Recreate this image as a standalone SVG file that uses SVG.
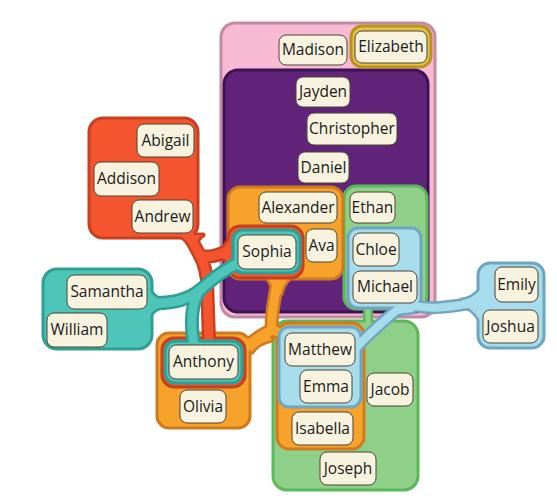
<svg xmlns="http://www.w3.org/2000/svg" width="557" height="504" viewBox="0 0 557 504">
<style>
.bg{fill:#ffffff}
.node rect{fill:#f8f3df;stroke:#4a4436;stroke-width:1}
.node text{font-family:"Open Sans","Noto Sans",sans-serif;font-size:15.5px;fill:#1a1a1a;text-anchor:middle}
.ol,.fl{fill:none;stroke-linecap:round;stroke-linejoin:round}
.fo{stroke-width:5;stroke-linejoin:round}
.ff{stroke:none}
.pink rect{fill:#f8b9d2;stroke:#c48aa4;stroke-width:3}
.purple rect{fill:#62247a;stroke:#3e1352;stroke-width:3}
.gold rect{fill:#e4c24c;stroke:#b8941c;stroke-width:3}
.green rect{fill:#8fd088;stroke:#5ab75a;stroke-width:3}
.green .ol{stroke:#5ab75a;stroke-width:10}
.green .fl{stroke:#8fd088;stroke-width:5}
.orange rect{fill:#f7a22b;stroke:#cf7a1f;stroke-width:3}
.orange .ol{stroke:#cf7a1f;stroke-width:14}
.orange .fl{stroke:#f7a22b;stroke-width:9}
.orange .fo{fill:#f7a22b;stroke:#cf7a1f}
.orange .ff{fill:#f7a22b}
.blue rect{fill:#a7dcec;stroke:#6ea6bf;stroke-width:3}
.blue .ol{stroke:#6ea6bf;stroke-width:13}
.blue .fl{stroke:#a7dcec;stroke-width:8}
.blue .fo{fill:#a7dcec;stroke:#6ea6bf}
.blue .ff{fill:#a7dcec}
.red rect{fill:#f4552f;stroke:#c8401f;stroke-width:3}
.red .ol{stroke:#c8401f;stroke-width:14}
.red .fl{stroke:#f4552f;stroke-width:9}
.red .fo{fill:#f4552f;stroke:#c8401f}
.red .ff{fill:#f4552f}
.teal rect{fill:#4ec5b9;stroke:#2f9f95;stroke-width:3}
.teal .ol{stroke:#2f9f95;stroke-width:14}
.teal .fl{stroke:#4ec5b9;stroke-width:9}
.teal .fo{fill:#4ec5b9;stroke:#2f9f95}
.teal .ff{fill:#4ec5b9}
</style>
<rect class="bg" x="0" y="0" width="557" height="504"/>
<g id="connectors">
  <g id="set-pink" class="pink">
    <rect x="221" y="23" width="214" height="294" rx="14"/>
  </g>
  <g id="set-purple" class="purple">
    <rect x="224" y="70" width="204" height="242" rx="14"/>
  </g>
  <g id="set-gold" class="gold">
    <rect x="351" y="26" width="80" height="41" rx="11"/>
  </g>
  <g id="set-green" class="green">
    <path class="ol" d="M368 303 L368 326"/>
    <rect x="344" y="186" width="83" height="123" rx="12"/>
    <rect x="273" y="321" width="145" height="169" rx="14"/>
    <path class="fl" d="M368 303 L368 326"/>
  </g>
  <g id="set-orange" class="orange">
    <path class="ol" d="M278 276 C275 300 270 315 272 330 M272 330 C265 333 255 338 246 348 M272 330 C276 331 280 332 286 336"/>
    <path class="fo" d="M266 277 L291 277 C285 282 282 287 281 294 L274 294 C273 287 271 282 266 277 Z M244 338 C252 340 258 338 266 332 L272 340 C262 342 256 346 252 352 Z"/>
    <rect x="228" y="187" width="115" height="92" rx="12"/>
    <rect x="157" y="333" width="93" height="95" rx="12"/>
    <rect x="277" y="323" width="87" height="126" rx="12"/>
    <path class="fl" d="M278 276 C275 300 270 315 272 330 M272 330 C265 333 255 338 246 348 M272 330 C276 331 280 332 286 336"/>
    <path class="ff" d="M266 277 L291 277 C285 282 282 287 281 294 L274 294 C273 287 271 282 266 277 Z M244 338 C252 340 258 338 266 332 L272 340 C262 342 256 346 252 352 Z"/>
  </g>
  <g id="set-blue" class="blue">
    <path class="ol" d="M405 303 C430 312 450 306 482 302 M405 303 C388 318 372 330 356 348"/>
    <path class="fo" d="M462 300 C470 299 474 296 480 290 L480 320 C474 312 470 307 462 306 Z M394 304 L426 304 C420 308 416 310 412 312 L398 314 C398 310 396 307 394 304 Z"/>
    <rect x="348" y="228" width="73" height="80" rx="10"/>
    <rect x="279" y="327" width="82" height="80" rx="10"/>
    <rect x="478" y="263" width="66" height="85" rx="12"/>
    <path class="fl" d="M405 303 C430 312 450 306 482 302 M405 303 C388 318 372 330 356 348"/>
    <path class="ff" d="M462 300 C470 299 474 296 480 290 L480 320 C474 312 470 307 462 306 Z M394 304 L426 304 C420 308 416 310 412 312 L398 314 C398 310 396 307 394 304 Z"/>
  </g>
  <g id="set-red" class="red">
    <path class="ol" d="M188 232 C195 250 205 258 207 280 L209 342 M202 256 C212 258 220 254 232 250"/>
    <path class="fo" d="M178 235 L203 235 C198 238 197 241 197 244 L188 243 C186 240 183 237 178 235 Z M218 250 C223 250 226 244 230 239 L230 265 C226 260 223 256 218 256 Z"/>
    <rect x="89" y="118" width="109" height="120" rx="14"/>
    <rect x="228" y="226" width="75" height="52" rx="12"/>
    <rect x="162" y="338" width="83" height="49" rx="12"/>
    <path class="fl" d="M188 232 C195 250 205 258 207 280 L209 342 M202 256 C212 258 220 254 232 250"/>
    <path class="ff" d="M178 235 L203 235 C198 238 197 241 197 244 L188 243 C186 240 183 237 178 235 Z M218 250 C223 250 226 244 230 239 L230 265 C226 260 223 256 218 256 Z"/>
  </g>
  <g id="set-teal" class="teal">
    <path class="ol" d="M150 303 C172 304 188 300 200 290 C212 280 225 268 245 260 M199 291 C191 305 190 322 194 345"/>
    <path class="fo" d="M150 291 C154 297 158 300 164 300 L164 307 C158 307 154 310 150 315 Z"/>
    <rect x="43" y="269" width="109" height="80" rx="14"/>
    <rect x="233" y="230" width="67" height="43" rx="10"/>
    <rect x="165" y="341" width="77" height="42" rx="10"/>
    <path class="fl" d="M150 303 C172 304 188 300 200 290 C212 280 225 268 245 260 M199 291 C191 305 190 322 194 345"/>
    <path class="ff" d="M150 291 C154 297 158 300 164 300 L164 307 C158 307 154 310 150 315 Z"/>
  </g>
</g>
<g id="node-madison" class="node"><rect x="279" y="35" width="68" height="30" rx="7"/><text x="313" y="55">Madison</text></g>
<g id="node-elizabeth" class="node"><rect x="355" y="31" width="72" height="32" rx="7"/><text x="391" y="52">Elizabeth</text></g>
<g id="node-jayden" class="node"><rect x="296" y="77" width="54" height="30" rx="7"/><text x="323" y="97">Jayden</text></g>
<g id="node-christopher" class="node"><rect x="307" y="113" width="90" height="32" rx="7"/><text x="352" y="134">Christopher</text></g>
<g id="node-daniel" class="node"><rect x="298" y="152" width="51" height="31" rx="7"/><text x="323.5" y="173">Daniel</text></g>
<g id="node-alexander" class="node"><rect x="259" y="192" width="78" height="31" rx="7"/><text x="298" y="213">Alexander</text></g>
<g id="node-ethan" class="node"><rect x="350" y="192" width="45" height="31" rx="7"/><text x="372.5" y="213">Ethan</text></g>
<g id="node-sophia" class="node"><rect x="238" y="235" width="58" height="34" rx="7"/><text x="267" y="257">Sophia</text></g>
<g id="node-ava" class="node"><rect x="306" y="229" width="31" height="33" rx="7"/><text x="321.5" y="251">Ava</text></g>
<g id="node-chloe" class="node"><rect x="353" y="233" width="46" height="33" rx="7"/><text x="376" y="255">Chloe</text></g>
<g id="node-michael" class="node"><rect x="353" y="271" width="64" height="32" rx="7"/><text x="385" y="292">Michael</text></g>
<g id="node-abigail" class="node"><rect x="137" y="124" width="57" height="33" rx="7"/><text x="165.5" y="146">Abigail</text></g>
<g id="node-addison" class="node"><rect x="94" y="162" width="65" height="34" rx="7"/><text x="126.5" y="184">Addison</text></g>
<g id="node-andrew" class="node"><rect x="132" y="200" width="61" height="33" rx="7"/><text x="162.5" y="222">Andrew</text></g>
<g id="node-samantha" class="node"><rect x="67" y="275" width="80" height="34" rx="7"/><text x="107" y="297">Samantha</text></g>
<g id="node-william" class="node"><rect x="47" y="313" width="60" height="34" rx="7"/><text x="77" y="335">William</text></g>
<g id="node-anthony" class="node"><rect x="169" y="345" width="69" height="34" rx="7"/><text x="203.5" y="367">Anthony</text></g>
<g id="node-olivia" class="node"><rect x="180" y="390" width="46" height="33" rx="7"/><text x="203" y="412">Olivia</text></g>
<g id="node-matthew" class="node"><rect x="285" y="333" width="70" height="33" rx="7"/><text x="320" y="355">Matthew</text></g>
<g id="node-emma" class="node"><rect x="300" y="370" width="52" height="33" rx="7"/><text x="326" y="392">Emma</text></g>
<g id="node-jacob" class="node"><rect x="367" y="373" width="46" height="33" rx="7"/><text x="390" y="395">Jacob</text></g>
<g id="node-isabella" class="node"><rect x="292" y="412" width="61" height="33" rx="7"/><text x="322.5" y="434">Isabella</text></g>
<g id="node-joseph" class="node"><rect x="320" y="452" width="56" height="33" rx="7"/><text x="348" y="474">Joseph</text></g>
<g id="node-emily" class="node"><rect x="495" y="267" width="43" height="35" rx="7"/><text x="516.5" y="290">Emily</text></g>
<g id="node-joshua" class="node"><rect x="483" y="310" width="55" height="33" rx="7"/><text x="510.5" y="332">Joshua</text></g>
</svg>
